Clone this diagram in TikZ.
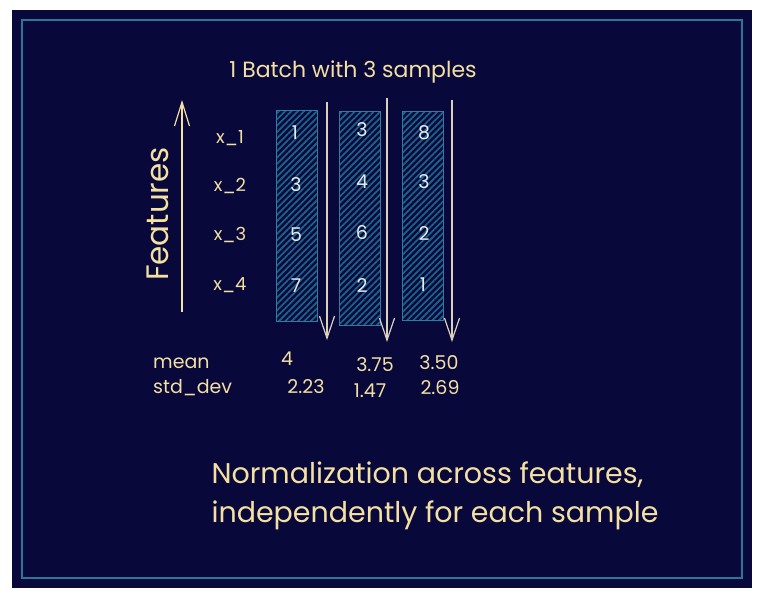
\documentclass[tikz,border=0pt]{standalone}
\usepackage{fontspec}
\setmainfont{Poppins}
\usetikzlibrary{patterns.meta}
\usetikzlibrary{arrows.meta}
\definecolor{navy}{HTML}{08083A}
\definecolor{frameteal}{HTML}{2A7896}
\definecolor{chalk}{HTML}{F3E0A2}
\definecolor{hatchblue}{HTML}{1C6189}
\definecolor{coledge}{HTML}{2A7EA2}
\definecolor{arrowgrey}{HTML}{D9D1BE}
\definecolor{numwhite}{HTML}{E6ECEE}
\tikzset{samplecol/.style={draw=coledge, line width=1pt, pattern={Lines[angle=45,distance=4.5pt,line width=1.8pt]}, pattern color=hatchblue, minimum width=41pt, inner sep=0pt}}
\tikzset{featlbl/.style={text=chalk, font=\fontsize{18}{21}\selectfont, inner sep=0pt}}
\tikzset{cellval/.style={text=numwhite, font=\fontsize{19}{22}\selectfont, inner sep=0pt}}
\tikzset{statlbl/.style={text=chalk, font=\fontsize{19}{22}\selectfont, inner sep=0pt}}
\tikzset{downarrow/.style={draw=arrowgrey, line width=1.5pt, -{Straight Barb[length=22pt,width=15pt,line width=1.2pt]}}}

\begin{document}
\begin{tikzpicture}[x=1pt,y=-1pt]

\useasboundingbox (0,0) rectangle (771,600);
\fill[white] (0,0) rectangle (771,600);
\fill[navy] (12,10) rectangle (752,588);
\draw[frameteal, line width=2.5pt] (22,20) rectangle (742,578);

\node[text=chalk, font=\fontsize{22}{26}\selectfont] (title) at (353,72) {1 Batch with 3 samples};

% columns of the batch
\node[samplecol, minimum height=211pt] (col1) at (296.5,216) {};
\node[samplecol, minimum height=214pt] (col2) at (360,218) {};
\node[samplecol, minimum height=209pt] (col3) at (423,215.5) {};

% feature axis
\coordinate (ftail) at (182,312);
\coordinate (fhead) at (182,100);
\draw[chalk, line width=1.5pt, -{Straight Barb[length=24pt,width=15pt,line width=1.2pt]}] (ftail) -- (fhead);
\node[text=chalk, rotate=90, font=\fontsize{31}{36}\selectfont] (feat) at (158,214) {Features};

\node[featlbl] (x1) at (230,138) {x\_1};
\node[featlbl] (x2) at (230,186) {x\_2};
\node[featlbl] (x3) at (230,235) {x\_3};
\node[featlbl] (x4) at (230,285) {x\_4};

\node[cellval] (v11) at (295,133) {1};
\node[cellval] (v12) at (296,185) {3};
\node[cellval] (v13) at (296,235) {5};
\node[cellval] (v14) at (296,286) {7};
\node[cellval] (v21) at (362,130) {3};
\node[cellval] (v22) at (362,182) {4};
\node[cellval] (v23) at (362,233) {6};
\node[cellval] (v24) at (362,286) {2};
\node[cellval] (v31) at (424,133) {8};
\node[cellval] (v32) at (424,182) {3};
\node[cellval] (v33) at (424,234) {2};
\node[cellval] (v34) at (423,285) {1};

% one arrow per sample
\coordinate (a1top) at (327,102); \coordinate (a1bot) at (327,340);
\coordinate (a2top) at (387,98);  \coordinate (a2bot) at (387,342);
\coordinate (a3top) at (452,100); \coordinate (a3bot) at (452,342);
\draw[downarrow] (a1top) -- (a1bot);
\draw[downarrow] (a2top) -- (a2bot);
\draw[downarrow] (a3top) -- (a3bot);

\node[statlbl, anchor=west] (mean) at (153,363) {mean};
\node[statlbl, anchor=west] (std) at (153,388) {std\_dev};
\node[statlbl] (m1) at (287,359) {4};
\node[statlbl] (m2) at (375,365) {3.75};
\node[statlbl] (m3) at (439,363) {3.50};
\node[statlbl] (s1) at (306,387) {2.23};
\node[statlbl] (s2) at (370,391) {1.47};
\node[statlbl] (s3) at (440,388) {2.69};

\node[text=chalk, anchor=west, align=left, font=\fontsize{28.5}{39}\selectfont] (note) at (208,496) {Normalization across features,\\independently for each sample};

\end{tikzpicture}
\end{document}
